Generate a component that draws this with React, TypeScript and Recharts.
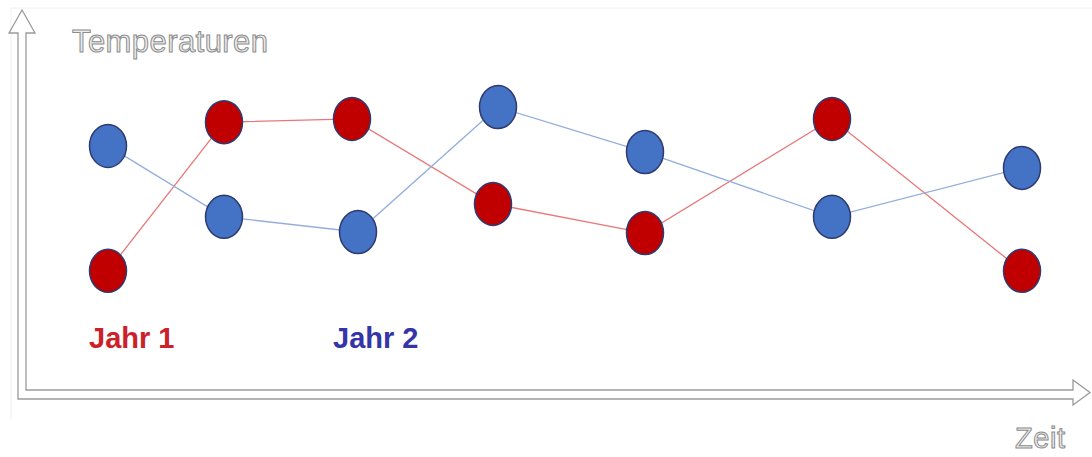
import React from "react";
import { LineChart, Line, XAxis, YAxis, Customized } from "recharts";

// Zeit positions (arbitrary time units) and temperature values
const jahr1Zeit = [0.5, 1.66, 2.94, 4.35, 5.87, 7.74, 9.64];
const jahr1Temp = [3.31, 7.44, 7.53, 5.17, 4.36, 7.53, 3.31];
const jahr2Zeit = [0.5, 1.66, 3.0, 4.4, 5.87, 7.74, 9.64];
const jahr2Temp = [6.78, 4.81, 4.39, 7.86, 6.61, 4.81, 6.17];

const labels = { yTitle: "Temperaturen", xTitle: "Zeit", s1: "Jahr 1", s2: "Jahr 2" };

const jahr1 = jahr1Zeit.map((z, i) => ({ zeit: z, temp: jahr1Temp[i] }));
const jahr2 = jahr2Zeit.map((z, i) => ({ zeit: z, temp: jahr2Temp[i] }));

const W = 1092;
const H = 457;

const makeDot = (fill: string) => (props: any) => {
  const { cx, cy, index } = props;
  if (cx == null || cy == null) return <g key={index} />;
  return (
    <ellipse
      key={index}
      cx={cx}
      cy={cy}
      rx={18.5}
      ry={21.5}
      fill={fill}
      stroke="#2E3A72"
      strokeWidth={1.5}
    />
  );
};

const Decor = () => {
  const arrow =
    "M26,390 L26,33 L35,33 L22,10 L9,33 L18,33 L18,399 L1073,399 L1073,405 L1090,392.5 L1073,380 L1073,390 Z";
  return (
    <g>
      <line x1={11} y1={8} x2={1092} y2={8} stroke="#f0f0f0" strokeWidth={1} />
      <line x1={11} y1={8} x2={11} y2={420} stroke="#f0f0f0" strokeWidth={1} />
      <path d={arrow} fill="none" stroke="#9a9a9a" strokeWidth={1.3} strokeLinejoin="miter" />
      <text
        x={72}
        y={52}
        fontFamily="Liberation Sans, Arial, sans-serif"
        fontSize={31}
        fill="#ececec"
        stroke="#8c8c8c"
        strokeWidth={1}
        textLength={196}
      >
        {labels.yTitle}
      </text>
      <text
        x={1015}
        y={448}
        fontFamily="Liberation Sans, Arial, sans-serif"
        fontSize={29}
        fill="#ececec"
        stroke="#8c8c8c"
        strokeWidth={1}
        textLength={50}
      >
        {labels.xTitle}
      </text>
      <text
        x={89}
        y={348}
        fontFamily="Liberation Sans, Arial, sans-serif"
        fontSize={29}
        fontWeight="bold"
        fill="#CC2128"
      >
        {labels.s1}
      </text>
      <text
        x={333}
        y={348}
        fontFamily="Liberation Sans, Arial, sans-serif"
        fontSize={29}
        fontWeight="bold"
        fill="#3535A8"
      >
        {labels.s2}
      </text>
    </g>
  );
};

export default function App() {
  return (
    <div style={{ position: "absolute", left: 0, top: 0, width: W, height: H, background: "#fff" }}>
      <LineChart
        width={W}
        height={H}
        margin={{ top: 30, right: 34, bottom: 67, left: 58 }}
      >
        <XAxis type="number" dataKey="zeit" domain={[0, 10]} hide allowDataOverflow />
        <YAxis type="number" dataKey="temp" domain={[0, 10]} hide allowDataOverflow />
        <Customized component={Decor} />
        <Line
          data={jahr1}
          dataKey="temp"
          stroke="#E87878"
          strokeWidth={1.3}
          dot={makeDot("#C00000")}
          activeDot={false}
          isAnimationActive={false}
        />
        <Line
          data={jahr2}
          dataKey="temp"
          stroke="#92AEDD"
          strokeWidth={1.3}
          dot={makeDot("#4472C4")}
          activeDot={false}
          isAnimationActive={false}
        />
      </LineChart>
    </div>
  );
}
